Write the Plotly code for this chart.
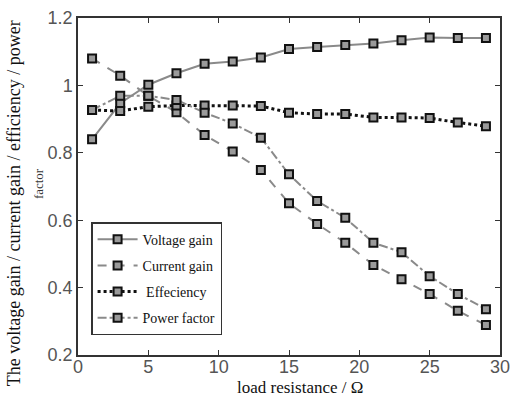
import plotly.graph_objects as go

x = [1, 3, 5, 7, 9, 11, 13, 15, 17, 19, 21, 23, 25, 27, 29]
voltage_gain = [0.84, 0.947, 1.002, 1.036, 1.064, 1.071, 1.083, 1.108, 1.114, 1.12, 1.124, 1.134, 1.142, 1.141, 1.141]
current_gain = [1.08, 1.029, 0.969, 0.92, 0.853, 0.804, 0.749, 0.65, 0.589, 0.533, 0.467, 0.425, 0.381, 0.331, 0.289]
efficiency = [0.927, 0.924, 0.937, 0.94, 0.94, 0.94, 0.939, 0.919, 0.915, 0.915, 0.905, 0.905, 0.903, 0.89, 0.879]
power_factor = [0.927, 0.969, 0.969, 0.957, 0.919, 0.887, 0.845, 0.736, 0.657, 0.607, 0.533, 0.505, 0.434, 0.381, 0.336]

names = ["Voltage gain", "Current gain", " Effeciency", "Power factor"]
series = [voltage_gain, current_gain, efficiency, power_factor]
dashes = ["solid", "dash", "dot", "dashdot"]
colors = ["#8a8a8a", "#8a8a8a", "#111111", "#8a8a8a"]
widths = [2, 2, 3, 2]

fig = go.Figure()
for i, (n, s) in enumerate(zip(names, series)):
    fig.add_trace(go.Scatter(
        x=x, y=s, name=n, mode="lines+markers", legendgroup=str(i),
        line=dict(color=colors[i], width=widths[i], dash=dashes[i]),
        marker=dict(symbol="square", size=8, color="#9a9a9a",
                    line=dict(color="#111111", width=2)),
    ))

axis_common = dict(
    showgrid=False, zeroline=False, showline=True, linecolor="#333333", linewidth=1.5,
    mirror="ticks", ticks="inside", ticklen=5, tickcolor="#333333", automargin=False,
    ticklabeloverflow="allow",
)

serif = "Liberation Serif, Times New Roman"
fig.update_layout(
    template="none",
    width=510, height=396,
    margin=dict(l=78, r=10, t=18, b=41, autoexpand=False),
    paper_bgcolor="white", plot_bgcolor="white",
    xaxis=dict(range=[0, 30], tickvals=[0, 5, 10, 15, 20, 25, 30],
               tickfont=dict(family="Liberation Sans, Arial", size=18, color="#555555"),
               ticklabelstandoff=-5,
               **axis_common),
    yaxis=dict(range=[0.2, 1.2], tickvals=[0.2, 0.4, 0.6, 0.8, 1.0, 1.2],
               ticktext=["0.2", "0.4", "0.6", "0.8", "1", "1.2"],
               tickfont=dict(family="Liberation Sans, Arial", size=18, color="#555555"),
               **axis_common),
    legend=dict(x=0.031, y=0.059, xanchor="left", yanchor="bottom",
                bordercolor="#333333", borderwidth=1.5, bgcolor="white",
                font=dict(family=serif, size=14, color="#111111"),
                tracegroupgap=5, itemwidth=40),
    showlegend=True,
    annotations=[
        dict(text="load resistance / Ω", xref="paper", yref="paper", x=0.525, y=-0.097,
             showarrow=False, xanchor="center", yanchor="middle",
             font=dict(family=serif, size=17, color="#111111")),
        dict(text="The voltage gain / current gain / efficiency / power", xref="paper", yref="paper",
             x=-0.1517, y=0.45, textangle=-90, showarrow=False, xanchor="center", yanchor="middle",
             font=dict(family=serif, size=18, color="#111111")),
        dict(text="factor", xref="paper", yref="paper",
             x=-0.0948, y=0.51, textangle=-90, showarrow=False, xanchor="center", yanchor="middle",
             font=dict(family=serif, size=13, color="#333333")),
    ],
)

fig.write_html("out.html", config={"displayModeBar": False},
               post_script="document.body.style.margin='0';")
